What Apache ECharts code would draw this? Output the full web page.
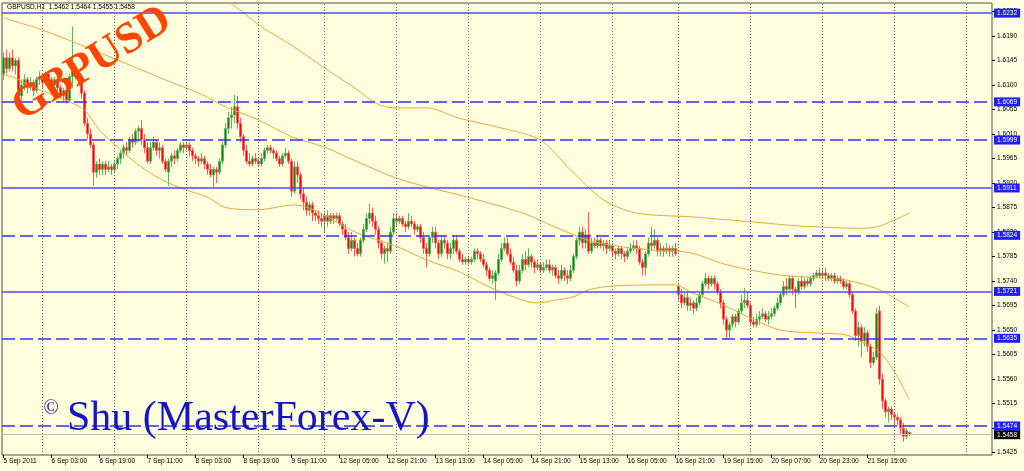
<!DOCTYPE html>
<html><head><meta charset="utf-8">
<script src="https://cdn.jsdelivr.net/npm/echarts@6/dist/echarts.min.js"></script>
<style>html,body{margin:0;padding:0;background:#FFFFE0;}#c{width:1024px;height:471px;}</style>
</head><body><div id="c"></div>
<script>
// ---- data: hourly GBPUSD candles [open, close, low, high] ----
const sep05 = [[1.6120,1.6150,1.6110,1.6160],[1.6150,1.6130,1.6120,1.6165],[1.6130,1.6150,1.6125,1.6160],[1.6150,1.6135,1.6125,1.6165],[1.6135,1.6145,1.6120,1.6150],[1.6145,1.6080,1.6065,1.6150],[1.6080,1.6100,1.6070,1.6110],[1.6100,1.6110,1.6090,1.6120],[1.6110,1.6095,1.6085,1.6115],[1.6095,1.6105,1.6090,1.6115],[1.6105,1.6090,1.6080,1.6110],[1.6090,1.6110,1.6085,1.6115],[1.6110,1.6115,1.6100,1.6125]];
const sep06 = [[1.6115,1.6105,1.6095,1.6120],[1.6105,1.6120,1.6100,1.6125],[1.6120,1.6110,1.6100,1.6125],[1.6110,1.6100,1.6090,1.6115],[1.6100,1.6110,1.6095,1.6115],[1.6110,1.6095,1.6085,1.6115],[1.6095,1.6080,1.6075,1.6100],[1.6080,1.6090,1.6070,1.6095],[1.6090,1.6072,1.6066,1.6095],[1.6072,1.6115,1.6068,1.6120],[1.6115,1.6128,1.6095,1.6207],[1.6128,1.6115,1.6110,1.6135],[1.6115,1.6110,1.6100,1.6125],[1.6110,1.6085,1.6075,1.6115],[1.6085,1.6030,1.6025,1.6090],[1.6030,1.6010,1.6000,1.6040],[1.6010,1.5990,1.5985,1.6020],[1.5990,1.5940,1.5915,1.5995],[1.5940,1.5955,1.5930,1.5960],[1.5955,1.5945,1.5935,1.5965],[1.5945,1.5955,1.5935,1.5960],[1.5955,1.5945,1.5935,1.5960],[1.5945,1.5950,1.5940,1.5960],[1.5950,1.5945,1.5935,1.5955]];
const sep07 = [[1.5945,1.5955,1.5940,1.5960],[1.5955,1.5965,1.5945,1.5970],[1.5965,1.5975,1.5955,1.5980],[1.5975,1.5985,1.5965,1.5990],[1.5985,1.5980,1.5970,1.5995],[1.5980,1.6000,1.5975,1.6005],[1.6000,1.5995,1.5985,1.6010],[1.5995,1.6015,1.5990,1.6020],[1.6015,1.6020,1.5995,1.6025],[1.6020,1.6000,1.5990,1.6036],[1.6000,1.5985,1.5975,1.6010],[1.5985,1.5960,1.5955,1.5995],[1.5960,1.5985,1.5955,1.5995],[1.5985,1.5995,1.5980,1.6005],[1.5995,1.5980,1.5970,1.6000],[1.5980,1.5985,1.5965,1.5995],[1.5985,1.5960,1.5955,1.5990],[1.5960,1.5945,1.5940,1.5965],[1.5940,1.5960,1.5915,1.5965],[1.5960,1.5970,1.5950,1.5975],[1.5970,1.5965,1.5955,1.5980],[1.5965,1.5980,1.5960,1.5985],[1.5980,1.5990,1.5975,1.5995],[1.5990,1.5985,1.5975,1.5995]];
const sep08 = [[1.5985,1.5990,1.5980,1.5995],[1.5990,1.5980,1.5970,1.5995],[1.5980,1.5970,1.5960,1.5985],[1.5970,1.5965,1.5955,1.5975],[1.5965,1.5960,1.5950,1.5970],[1.5960,1.5965,1.5955,1.5975],[1.5965,1.5955,1.5945,1.5970],[1.5955,1.5945,1.5935,1.5960],[1.5945,1.5935,1.5930,1.5955],[1.5935,1.5945,1.5912,1.5950],[1.5945,1.5940,1.5920,1.5950],[1.5940,1.5960,1.5935,1.5965],[1.5960,1.5990,1.5955,1.5995],[1.5990,1.6020,1.5985,1.6030],[1.6020,1.6040,1.6010,1.6050],[1.6040,1.6045,1.6020,1.6060],[1.6045,1.6060,1.6030,1.6082],[1.6060,1.6030,1.6020,1.6080],[1.6030,1.6005,1.5995,1.6040],[1.6005,1.5980,1.5970,1.6010],[1.5980,1.5960,1.5955,1.5990],[1.5960,1.5955,1.5950,1.5975],[1.5955,1.5965,1.5950,1.5970],[1.5965,1.5960,1.5955,1.5975]];
const sep09 = [[1.5960,1.5955,1.5950,1.5965],[1.5955,1.5965,1.5950,1.5975],[1.5965,1.5980,1.5960,1.5985],[1.5980,1.5985,1.5975,1.5990],[1.5985,1.5980,1.5975,1.5990],[1.5980,1.5975,1.5965,1.5985],[1.5975,1.5965,1.5960,1.5980],[1.5965,1.5955,1.5950,1.5970],[1.5955,1.5970,1.5950,1.5975],[1.5970,1.5975,1.5965,1.5985],[1.5975,1.5960,1.5955,1.5980],[1.5960,1.5905,1.5895,1.5965],[1.5905,1.5950,1.5900,1.5960],[1.5950,1.5935,1.5920,1.5960],[1.5935,1.5900,1.5890,1.5940],[1.5900,1.5885,1.5870,1.5910],[1.5885,1.5870,1.5860,1.5895],[1.5870,1.5880,1.5860,1.5885],[1.5880,1.5865,1.5850,1.5885],[1.5865,1.5860,1.5850,1.5870],[1.5860,1.5855,1.5845,1.5870],[1.5855,1.5850,1.5840,1.5865]];
const sep12 = [[1.5850,1.5860,1.5830,1.5865],[1.5860,1.5850,1.5840,1.5870],[1.5850,1.5860,1.5845,1.5865],[1.5860,1.5855,1.5845,1.5865],[1.5855,1.5860,1.5850,1.5865],[1.5860,1.5845,1.5840,1.5865],[1.5845,1.5835,1.5825,1.5850],[1.5835,1.5820,1.5815,1.5845],[1.5820,1.5800,1.5790,1.5830],[1.5800,1.5815,1.5795,1.5830],[1.5815,1.5800,1.5785,1.5820],[1.5800,1.5790,1.5785,1.5810],[1.5790,1.5815,1.5785,1.5820],[1.5815,1.5835,1.5810,1.5845],[1.5835,1.5855,1.5830,1.5865],[1.5855,1.5865,1.5845,1.5882],[1.5865,1.5850,1.5840,1.5875],[1.5850,1.5835,1.5825,1.5860],[1.5835,1.5810,1.5800,1.5840],[1.5810,1.5790,1.5780,1.5815],[1.5790,1.5800,1.5772,1.5805],[1.5800,1.5795,1.5775,1.5810],[1.5795,1.5830,1.5790,1.5840],[1.5830,1.5855,1.5825,1.5865]];
const sep13 = [[1.5855,1.5850,1.5840,1.5865],[1.5850,1.5855,1.5845,1.5860],[1.5855,1.5845,1.5840,1.5860],[1.5845,1.5840,1.5830,1.5850],[1.5840,1.5850,1.5835,1.5865],[1.5850,1.5845,1.5840,1.5860],[1.5845,1.5835,1.5825,1.5850],[1.5835,1.5840,1.5830,1.5845],[1.5840,1.5820,1.5810,1.5845],[1.5820,1.5800,1.5790,1.5830],[1.5800,1.5790,1.5765,1.5810],[1.5790,1.5820,1.5785,1.5825],[1.5820,1.5830,1.5810,1.5840],[1.5830,1.5810,1.5800,1.5840],[1.5810,1.5790,1.5780,1.5815],[1.5790,1.5815,1.5785,1.5825],[1.5815,1.5810,1.5800,1.5825],[1.5810,1.5790,1.5780,1.5815],[1.5790,1.5800,1.5780,1.5810],[1.5800,1.5815,1.5790,1.5825],[1.5815,1.5795,1.5790,1.5825],[1.5795,1.5780,1.5775,1.5800],[1.5780,1.5775,1.5770,1.5790],[1.5775,1.5780,1.5770,1.5785]];
const sep14 = [[1.5780,1.5775,1.5770,1.5785],[1.5775,1.5780,1.5770,1.5785],[1.5780,1.5795,1.5775,1.5800],[1.5795,1.5790,1.5780,1.5800],[1.5790,1.5780,1.5775,1.5795],[1.5780,1.5770,1.5765,1.5790],[1.5770,1.5760,1.5750,1.5775],[1.5760,1.5745,1.5740,1.5765],[1.5745,1.5750,1.5735,1.5760],[1.5740,1.5755,1.5705,1.5760],[1.5755,1.5780,1.5750,1.5790],[1.5780,1.5800,1.5775,1.5810],[1.5800,1.5810,1.5795,1.5820],[1.5810,1.5790,1.5785,1.5820],[1.5790,1.5775,1.5770,1.5800],[1.5775,1.5760,1.5755,1.5785],[1.5760,1.5740,1.5730,1.5770],[1.5740,1.5760,1.5735,1.5770],[1.5760,1.5780,1.5755,1.5790],[1.5780,1.5770,1.5760,1.5795],[1.5770,1.5785,1.5765,1.5800],[1.5785,1.5775,1.5765,1.5790],[1.5775,1.5765,1.5755,1.5780],[1.5765,1.5770,1.5760,1.5780]];
const sep15 = [[1.5770,1.5760,1.5755,1.5775],[1.5760,1.5765,1.5755,1.5775],[1.5765,1.5770,1.5760,1.5780],[1.5770,1.5760,1.5755,1.5780],[1.5760,1.5765,1.5750,1.5770],[1.5765,1.5750,1.5745,1.5770],[1.5750,1.5745,1.5735,1.5760],[1.5745,1.5760,1.5740,1.5770],[1.5760,1.5750,1.5740,1.5765],[1.5750,1.5745,1.5735,1.5760],[1.5745,1.5760,1.5740,1.5770],[1.5760,1.5785,1.5755,1.5790],[1.5785,1.5815,1.5780,1.5820],[1.5815,1.5830,1.5805,1.5840],[1.5830,1.5810,1.5800,1.5840],[1.5810,1.5825,1.5800,1.5835],[1.5825,1.5795,1.5790,1.5867],[1.5795,1.5810,1.5790,1.5820],[1.5810,1.5805,1.5800,1.5820],[1.5805,1.5815,1.5800,1.5825],[1.5815,1.5805,1.5800,1.5820],[1.5805,1.5810,1.5795,1.5815],[1.5810,1.5800,1.5790,1.5815],[1.5800,1.5805,1.5795,1.5815]];
const sep16 = [[1.5805,1.5795,1.5785,1.5810],[1.5795,1.5790,1.5780,1.5800],[1.5790,1.5800,1.5785,1.5805],[1.5800,1.5790,1.5780,1.5805],[1.5790,1.5785,1.5775,1.5795],[1.5785,1.5795,1.5780,1.5800],[1.5795,1.5800,1.5790,1.5810],[1.5800,1.5805,1.5795,1.5815],[1.5805,1.5800,1.5790,1.5815],[1.5800,1.5775,1.5770,1.5805],[1.5775,1.5765,1.5750,1.5780],[1.5765,1.5790,1.5750,1.5795],[1.5790,1.5810,1.5785,1.5820],[1.5810,1.5805,1.5795,1.5839],[1.5805,1.5815,1.5800,1.5835],[1.5815,1.5795,1.5785,1.5820],[1.5795,1.5800,1.5785,1.5810],[1.5800,1.5795,1.5785,1.5805],[1.5795,1.5800,1.5790,1.5810],[1.5800,1.5795,1.5785,1.5805],[1.5795,1.5800,1.5785,1.5805],[1.5800,1.5790,1.5785,1.5810]];
const sep19 = [[1.5730,1.5715,1.5705,1.5735],[1.5715,1.5700,1.5690,1.5725],[1.5700,1.5710,1.5695,1.5720],[1.5710,1.5695,1.5685,1.5720],[1.5695,1.5700,1.5685,1.5710],[1.5700,1.5690,1.5680,1.5705],[1.5690,1.5700,1.5685,1.5710],[1.5700,1.5715,1.5695,1.5720],[1.5715,1.5735,1.5710,1.5740],[1.5735,1.5745,1.5730,1.5755],[1.5745,1.5735,1.5725,1.5750],[1.5735,1.5745,1.5730,1.5750],[1.5745,1.5735,1.5725,1.5750],[1.5735,1.5720,1.5715,1.5740],[1.5720,1.5700,1.5690,1.5725],[1.5700,1.5670,1.5660,1.5705],[1.5670,1.5650,1.5633,1.5675],[1.5650,1.5660,1.5635,1.5665],[1.5660,1.5675,1.5655,1.5680],[1.5675,1.5665,1.5655,1.5680],[1.5665,1.5685,1.5660,1.5690],[1.5685,1.5700,1.5680,1.5715],[1.5700,1.5705,1.5690,1.5727],[1.5705,1.5695,1.5690,1.5720]];
const sep20 = [[1.5695,1.5665,1.5660,1.5700],[1.5665,1.5660,1.5655,1.5675],[1.5660,1.5670,1.5655,1.5680],[1.5670,1.5675,1.5660,1.5685],[1.5675,1.5680,1.5670,1.5690],[1.5680,1.5670,1.5665,1.5685],[1.5670,1.5675,1.5660,1.5685],[1.5675,1.5680,1.5670,1.5690],[1.5680,1.5690,1.5675,1.5695],[1.5690,1.5700,1.5685,1.5710],[1.5700,1.5715,1.5695,1.5720],[1.5715,1.5730,1.5710,1.5740],[1.5730,1.5725,1.5715,1.5745],[1.5725,1.5745,1.5720,1.5750],[1.5745,1.5725,1.5715,1.5750],[1.5725,1.5720,1.5690,1.5730],[1.5720,1.5740,1.5715,1.5745],[1.5740,1.5730,1.5725,1.5750],[1.5730,1.5740,1.5725,1.5745],[1.5740,1.5735,1.5730,1.5745],[1.5735,1.5745,1.5730,1.5750],[1.5745,1.5750,1.5740,1.5755],[1.5750,1.5755,1.5745,1.5760],[1.5755,1.5750,1.5745,1.5765]];
const sep21 = [[1.5750,1.5755,1.5745,1.5765],[1.5755,1.5750,1.5740,1.5765],[1.5750,1.5745,1.5740,1.5755],[1.5745,1.5750,1.5740,1.5755],[1.5750,1.5740,1.5735,1.5755],[1.5740,1.5745,1.5735,1.5750],[1.5745,1.5740,1.5735,1.5750],[1.5740,1.5730,1.5725,1.5745],[1.5730,1.5735,1.5725,1.5740],[1.5735,1.5715,1.5710,1.5740],[1.5715,1.5685,1.5680,1.5720],[1.5685,1.5640,1.5630,1.5690],[1.5640,1.5655,1.5620,1.5665],[1.5655,1.5630,1.5600,1.5660],[1.5630,1.5645,1.5620,1.5655],[1.5645,1.5620,1.5610,1.5650],[1.5620,1.5590,1.5580,1.5625],[1.5590,1.5600,1.5585,1.5610],[1.5600,1.5680,1.5595,1.5690],[1.5685,1.5560,1.5550,1.5695],[1.5560,1.5520,1.5505,1.5570],[1.5520,1.5500,1.5490,1.5525],[1.5500,1.5505,1.5480,1.5510],[1.5505,1.5495,1.5485,1.5510]];
const sep22 = [[1.5495,1.5490,1.5475,1.5500],[1.5490,1.5485,1.5475,1.5495],[1.5485,1.5470,1.5460,1.5490],[1.5470,1.5455,1.5445,1.5480],[1.5455,1.5465,1.5450,1.5470],[1.5462,1.5458,1.5455,1.5464]];

// Bollinger bands: [bar index, price]
const bandUpper = [[38,1.6306],[55,1.6294],[66,1.6270],[75,1.6252],[86,1.6207],[96,1.6173],[109,1.6124],[118,1.6091],[124,1.6067],[130,1.6058],[141,1.6058],[152,1.6039],[166,1.6021],[179,1.5999],[189,1.5944],[200,1.5889],[211,1.5865],[229,1.5858],[249,1.5849],[266,1.5841],[286,1.5837],[292,1.5841],[302,1.5865]];
const bandMiddle = [[0,1.6223],[13,1.6201],[38,1.6146],[55,1.6107],[66,1.6083],[74,1.6060],[85,1.6036],[96,1.6005],[107,1.5986],[118,1.5959],[131,1.5929],[141,1.5913],[152,1.5898],[173,1.5865],[184,1.5839],[195,1.5815],[206,1.5803],[217,1.5797],[229,1.5792],[241,1.5770],[259,1.5751],[272,1.5746],[281,1.5742],[292,1.5724],[302,1.5692]];
const bandLower = [[0,1.6118],[3,1.6115],[10,1.6096],[21,1.6072],[27,1.6054],[32,1.6017],[38,1.5986],[43,1.5962],[49,1.5938],[55,1.5920],[61,1.5907],[68,1.5894],[74,1.5875],[85,1.5871],[97,1.5880],[102,1.5874],[107,1.5861],[118,1.5828],[130,1.5806],[141,1.5779],[152,1.5757],[162,1.5729],[173,1.5705],[178,1.5700],[184,1.5705],[190,1.5711],[195,1.5724],[203,1.5731],[217,1.5733],[224,1.5733],[229,1.5720],[240,1.5696],[249,1.5672],[259,1.5650],[270,1.5645],[281,1.5641],[286,1.5628],[292,1.5610],[297,1.5573],[302,1.5522]];

// horizontal levels
const solidLevels = [1.6232, 1.5911, 1.5721];
const dashedLevels = [1.6069, 1.5999, 1.5824, 1.5635, 1.5474];
const bidLevel = 1.5458;

// axis ticks
const yTicks = [1.5425,1.5470,1.5515,1.5560,1.5605,1.5650,1.5695,1.5740,1.5785,1.5830,1.5875,1.5920,1.5965,1.6010,1.6055,1.6100,1.6145,1.6190,1.6235];
const xTickLabels = ['5 Sep 2011','6 Sep 03:00','6 Sep 19:00','7 Sep 11:00','8 Sep 03:00','8 Sep 19:00','9 Sep 11:00','12 Sep 05:00','12 Sep 21:00','13 Sep 13:00','14 Sep 05:00','14 Sep 21:00','15 Sep 13:00','16 Sep 05:00','16 Sep 21:00','19 Sep 15:00','20 Sep 07:00','20 Sep 23:00','21 Sep 15:00'];
const X_TICK_EVERY = 16;
const Y_MIN = 1.54207, Y_MAX = 1.62506;
const N_SLOTS = 330;
const titleText = 'GBPUSD,H1  1.5462 1.5464 1.5455 1.5458';

// hourly categories (Friday session ends 21:00)
function buildCategories(n) {
  const out = []; let d = 5, h = 11, dow = 1;
  while (out.length < n) {
    out.push(d + ' Sep ' + String(h).padStart(2, '0') + ':00');
    h++;
    if (dow === 5 && h > 21) { h = 0; d += 3; dow = 1; }
    else if (h > 23) { h = 0; d++; dow++; }
  }
  return out;
}
const categories = buildCategories(N_SLOTS);
const candles = [].concat(sep05, sep06, sep07, sep08, sep09, sep12, sep13, sep14, sep15, sep16, sep19, sep20, sep21, sep22);
const dayStarts = categories.filter(c => c.endsWith(' 00:00'));

const FONT = 'Liberation Sans';
const isTick = (i) => i % X_TICK_EVERY === 0 && i / X_TICK_EVERY < xTickLabels.length;
const levelLabel = (bg) => ({show: true, position: 'end', distance: 2, formatter: p => Number(p.value).toFixed(4),
  backgroundColor: bg, color: '#fff', fontSize: 6.6, fontFamily: FONT, padding: [1, 3, 0, 3], lineHeight: 8});

const chart = echarts.init(document.getElementById('c'), null, {renderer: 'canvas'});
chart.setOption({
  animation: false,
  backgroundColor: '#FFFFE0',
  grid: {left: 2, right: 32, top: 3, bottom: 16, show: true, backgroundColor: '#FFFFE0', borderColor: '#505050', borderWidth: 1},
  xAxis: {
    type: 'category', data: categories, boundaryGap: true,
    axisLine: {show: false},
    axisTick: {show: true, alignWithLabel: true, interval: isTick, length: 3, lineStyle: {color: '#000'}},
    axisLabel: {interval: isTick, formatter: (v, i) => xTickLabels[i / X_TICK_EVERY] || '', align: 'left', margin: 3,
      fontSize: 6.6, fontFamily: FONT, color: '#000'},
    splitLine: {show: false}
  },
  yAxis: {
    type: 'value', position: 'right', min: Y_MIN, max: Y_MAX, scale: true,
    axisLine: {show: false}, splitLine: {show: false},
    axisTick: {show: true, length: 3, customValues: yTicks, lineStyle: {color: '#000'}},
    axisLabel: {customValues: yTicks, formatter: v => v.toFixed(4), margin: 5, fontSize: 6.6, fontFamily: FONT, color: '#000'}
  },
  series: [
    {type: 'line', data: [], z: 1, silent: true, clip: false,
     markLine: {silent: true, symbol: ['none', 'none'], label: {show: false},
       lineStyle: {color: '#606060', type: [1, 2], width: 1},
       data: dayStarts.map(c => ({xAxis: c}))}},
    {type: 'candlestick', data: candles, z: 2, barWidth: 1.6,
     itemStyle: {color: '#128A12', color0: '#FF0000', borderColor: '#5DB45D', borderColor0: '#FF5A5A', borderWidth: 1}},
    {type: 'line', data: bandUpper, z: 3, smooth: 0.3, symbol: 'none', lineStyle: {color: '#E5A83E', width: 1}},
    {type: 'line', data: bandMiddle, z: 3, smooth: 0.3, symbol: 'none', lineStyle: {color: '#E5A83E', width: 1}},
    {type: 'line', data: bandLower, z: 3, smooth: 0.3, symbol: 'none', lineStyle: {color: '#E5A83E', width: 1}},
    {type: 'line', data: [], z: 4, silent: true, clip: false,
     markLine: {silent: true, symbol: ['none', 'none'], precision: 4,
       data: [].concat(
         [{yAxis: bidLevel, lineStyle: {color: '#C0C0C0', type: 'solid', width: 1}, label: levelLabel('#000000')}],
         solidLevels.map(v => ({yAxis: v, lineStyle: {color: '#4A4AFF', type: 'solid', width: 1.6}, label: levelLabel('#1E1EFF')})),
         dashedLevels.map(v => ({yAxis: v, lineStyle: {color: '#3030F0', type: [13, 5], width: 1.5}, label: levelLabel('#1E1EFF')}))
       )}}
  ],
  graphic: [
    {type: 'text', left: 7, top: 4, z: 10, style: {text: titleText, font: '6.6px "Liberation Sans"', fill: '#000'}},
    {type: 'text', x: 92, y: 64, rotation: 0.56, z: 10,
     style: {text: 'GBPUSD', font: 'bold 44px "Liberation Serif"', fill: '#FF4500', align: 'center', verticalAlign: 'middle'}},
    {type: 'text', x: 51, y: 409, z: 10, style: {text: '\u00A9', font: '20px "Liberation Serif"', fill: '#1515C8', align: 'center', verticalAlign: 'middle'}},
    {type: 'text', x: 67, y: 419, z: 10, style: {text: 'Shu (MasterForex-V)', font: '42px "Liberation Serif"', fill: '#1515C8', align: 'left', verticalAlign: 'middle'}}
  ]
});
</script></body></html>
